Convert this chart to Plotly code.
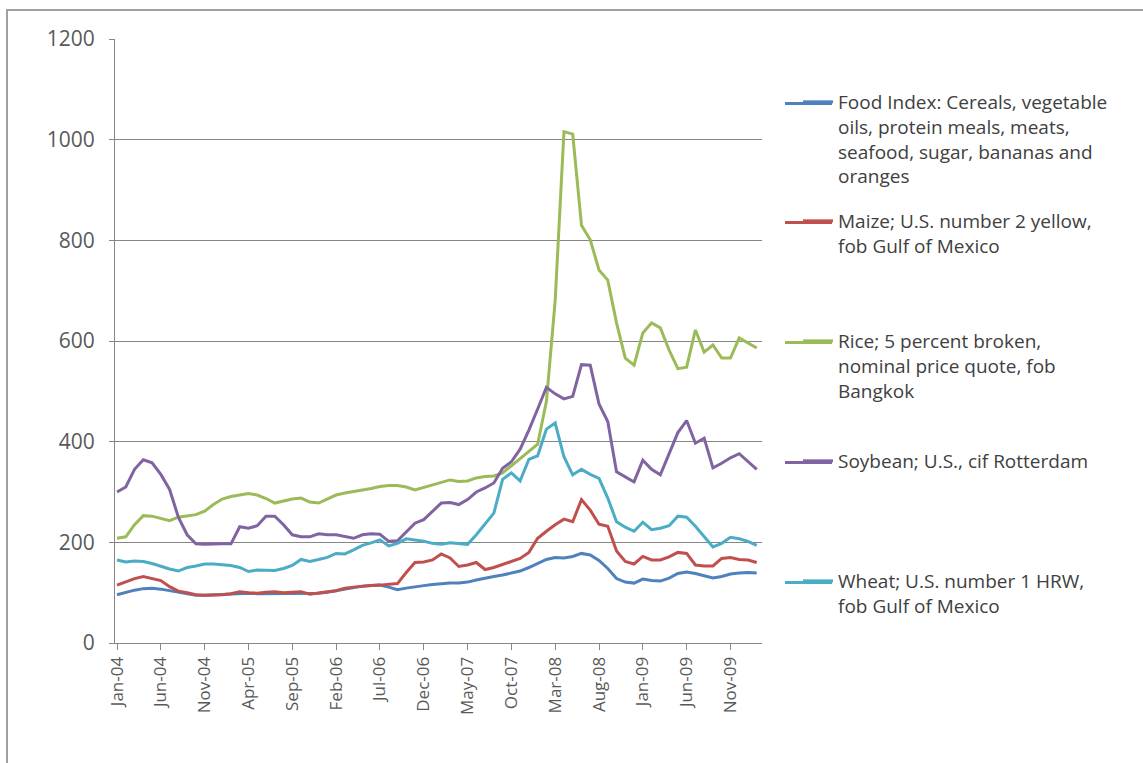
import pandas as pd
import plotly.graph_objects as go

# ---------------- data ----------------
months = pd.date_range("2004-01-01", periods=74, freq="MS").strftime("%b-%y").tolist()
tick_labels = ["Jan-04", "Jun-04", "Nov-04", "Apr-05", "Sep-05", "Feb-06", "Jul-06",
               "Dec-06", "May-07", "Oct-07", "Mar-08", "Aug-08", "Jan-09", "Jun-09", "Nov-09"]

food_index = [96, 101, 105, 108, 109, 107, 104, 100, 97, 95, 95, 96, 97, 98, 99, 99, 98, 98, 99, 99,
              98, 98, 99, 99, 101, 104, 107, 110, 113, 114, 115, 111, 106, 109, 112, 114, 116, 118, 119, 119,
              121, 125, 129, 132, 135, 139, 143, 150, 158, 166, 170, 169, 172, 178, 175, 164, 148, 128, 121, 119,
              127, 124, 123, 129, 138, 141, 138, 134, 129, 132, 137, 139, 140, 139]
maize = [115, 122, 128, 132, 128, 124, 112, 103, 100, 96, 95, 95, 96, 98, 102, 100, 99, 101, 102, 100,
         101, 102, 97, 100, 102, 104, 109, 111, 113, 114, 115, 116, 118, 140, 160, 161, 165, 177, 169, 152,
         155, 160, 146, 150, 156, 162, 168, 180, 208, 222, 235, 246, 241, 285, 264, 236, 232, 183, 162, 157,
         172, 165, 165, 171, 180, 178, 155, 153, 153, 168, 170, 166, 165, 160]
rice = [208, 211, 235, 253, 252, 248, 243, 250, 252, 255, 262, 275, 286, 291, 294, 297, 294, 287, 278, 282,
        286, 288, 280, 278, 286, 294, 298, 301, 303, 307, 311, 313, 313, 310, 304, 309, 314, 318, 324, 321,
        322, 328, 331, 332, 338, 352, 366, 380, 395, 480, 680, 1016, 1011, 830, 801, 741, 721, 636, 566, 552,
        616, 636, 626, 582, 545, 548, 622, 578, 592, 566, 566, 606, 596, 586]
soybean = [300, 310, 345, 364, 358, 335, 305, 250, 215, 197, 196, 197, 197, 197, 231, 228, 233, 252, 252, 235,
           215, 211, 211, 217, 215, 215, 212, 208, 215, 217, 216, 202, 203, 220, 238, 245, 262, 278, 279, 275,
           285, 300, 308, 318, 347, 360, 385, 423, 465, 508, 495, 485, 490, 553, 552, 475, 440, 340, 330, 320,
           363, 345, 334, 375, 418, 442, 397, 407, 348, 357, 368, 376, 360, 345]
wheat = [165, 161, 163, 162, 158, 152, 147, 143, 150, 153, 157, 157, 155, 154, 150, 142, 145, 145, 144, 148,
         154, 166, 162, 166, 170, 178, 177, 185, 194, 199, 205, 193, 198, 207, 205, 202, 198, 196, 199, 197,
         196, 215, 237, 258, 325, 338, 322, 365, 372, 425, 437, 370, 334, 345, 335, 327, 288, 241, 230, 222,
         240, 225, 228, 233, 252, 250, 232, 212, 191, 198, 210, 207, 202, 194]

series_names = [
    "Food Index: Cereals, vegetable<br>oils, protein meals, meats,<br>seafood, sugar, bananas and<br>oranges",
    "Maize; U.S. number 2 yellow,<br>fob Gulf of Mexico",
    "Rice; 5 percent broken,<br>nominal price quote, fob<br>Bangkok",
    "Soybean; U.S., cif Rotterdam",
    "Wheat; U.S. number 1 HRW,<br>fob Gulf of Mexico",
]
series_values = [food_index, maize, rice, soybean, wheat]
series_colors = ["#4F81BD", "#C0504D", "#9BBB59", "#8064A2", "#4BACC6"]

# ---------------- layout helpers ----------------
W, H = 1143, 763
L, R, T, B = 115, 381, 39, 120
plot_w, plot_h = W - L - R, H - T - B
x_pos = list(range(len(months)))


def px_x(px):
    return (px - L) / plot_w


def px_y(py):
    return (H - B - py) / plot_h


FONT = "Open Sans"
legend_first_line_y = [103, 222, 342, 462, 582]

fig = go.Figure()
legend_keys = ["legend", "legend2", "legend3", "legend4", "legend5"]
for name, vals, col, lk in zip(series_names, series_values, series_colors, legend_keys):
    fig.add_trace(go.Scatter(
        x=x_pos, y=vals, mode="lines", name=name,
        line=dict(color=col, width=3),
        legend=lk,
        hovertext=months, hoverinfo="text+y",
    ))

legend_common = dict(
    xanchor="left", yanchor="top", valign="top",
    font=dict(family=FONT, size=19, color="#404040"),
    bgcolor="rgba(0,0,0,0)", borderwidth=0, tracegroupgap=0,
)
layout_legends = {}
for lk, yc in zip(legend_keys, legend_first_line_y):
    layout_legends[lk] = dict(x=px_x(798), y=px_y(yc - 20), **legend_common)

# longer legend line samples (Excel style), drawn under the legend's own sample
shapes = [dict(type="rect", xref="paper", yref="paper",
               x0=px_x(7), x1=px_x(1160), y0=px_y(780), y1=px_y(10),
               line=dict(color="#A0A0A0", width=2), fillcolor="rgba(0,0,0,0)", layer="below")]
for col, yc in zip(series_colors, legend_first_line_y):
    shapes.append(dict(type="line", xref="paper", yref="paper",
                       x0=px_x(785), x1=px_x(832), y0=px_y(yc + 0.5), y1=px_y(yc + 0.5),
                       line=dict(color=col, width=3)))

fig.update_layout(
    width=W, height=H,
    margin=dict(l=L, r=R, t=T, b=B),
    paper_bgcolor="white", plot_bgcolor="white",
    showlegend=True,
    xaxis=dict(
        range=[-0.23, 73.6],
        tickmode="array",
        tickvals=[months.index(t) for t in tick_labels],
        ticktext=tick_labels,
        tickangle=-90,
        ticks="outside", ticklen=6, tickcolor="#868686",
        showline=True, linecolor="#868686", linewidth=1,
        showgrid=False, zeroline=False,
        tickfont=dict(family=FONT, size=17, color="#595959"),
    ),
    yaxis=dict(
        range=[0, 1200], dtick=200,
        ticks="outside", ticklen=5, tickcolor="#868686",
        showline=True, linecolor="#868686", linewidth=1,
        showgrid=True, gridcolor="#868686", gridwidth=1,
        zeroline=False,
        tickfont=dict(family=FONT, size=21, color="#595959"),
        ticklabelstandoff=10,
    ),
    shapes=shapes,
    **layout_legends,
)

fig.write_html("out.html")
